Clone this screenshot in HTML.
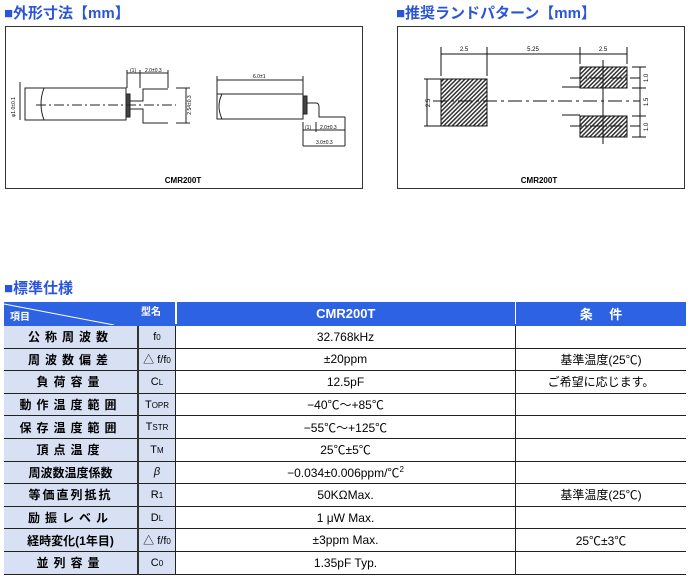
<!DOCTYPE html>
<html><head><meta charset="utf-8"><style>
body{margin:0;width:690px;height:586px;background:#fff;position:relative;font-family:"Liberation Sans","Noto Sans CJK JP",sans-serif;overflow:hidden}
.h{position:absolute;font-size:15px;font-weight:bold;color:#2a55d8;letter-spacing:0}
table{position:absolute;left:4px;top:302px;width:682px;border-collapse:collapse;font-size:12px;color:#000}
td{height:21.6px;padding:0;text-align:center;border-bottom:1px solid #222}
td.l{background:#d8e0f4;font-weight:bold;letter-spacing:5px;width:133px;font-size:12px}
td.s{background:#d8e0f4;border-left:2px solid #333;width:36px;font-size:11px;border-right:1px solid #222}
td.v{width:339px;border-right:1px solid #222}
tr.hd td{background:#2d63e2;color:#fff;font-weight:bold;height:22px;border-bottom:2px solid #2d63e2;font-size:13px}
sub{font-size:8px;vertical-align:baseline}
</style></head><body>
<div class="h" style="left:4px;top:2px">■外形寸法【mm】</div>
<div class="h" style="left:396px;top:2px">■推奨ランドパターン【mm】</div>
<div class="h" style="left:4px;top:277px">■標準仕様</div>
<svg style="position:absolute;left:0;top:0" width="690" height="200" font-family="Liberation Sans" >
<rect x="5.5" y="26.5" width="357" height="162" fill="none" stroke="#333"/>
<rect x="397.5" y="26.5" width="287" height="162" fill="none" stroke="#333"/>
<text x="183" y="183" font-size="8" font-weight="bold" text-anchor="middle">CMR200T</text>
<text x="539" y="183" font-size="8" font-weight="bold" text-anchor="middle">CMR200T</text>
<g stroke="#222" fill="none" stroke-width="1">
<path d="M25 88H126V120H25Z"/><path d="M44 88Q38 104 44 120"/>
<rect x="126" y="94" width="4" height="23" fill="#444"/>
<path d="M130 101H143V89H168M130 109H143V123H168"/>
<path d="M36 105H176" stroke-dasharray="10,3,2,3"/>
<path d="M25 88V120M20 82V120M127 70V88M140 70V88M168 70V88M127 73H168M186 88V123M176 88H190M176 123H190"/>
<path d="M217 94H303V119H217Z"/><path d="M222 94Q216 106 222 119"/>
<rect x="303" y="96" width="4" height="18" fill="#444"/>
<path d="M307 103H316Q319 103 319 107V117H345"/>
<path d="M217 80H303M217 76V94M303 76V94M303 130H345M303 146H345M303 122V146M316 122V132M345 117V146"/>
</g>
<g font-size="5" fill="#000">
<text x="130" y="72">(1)</text><text x="145" y="72">2.0±0.3</text>
<text x="253" y="78">6.0±1</text><text x="305" y="129">(1)</text><text x="320" y="129">2.0±0.3</text><text x="316" y="144">3.0±0.3</text>
<text x="15" y="107" transform="rotate(-90 15 107)" text-anchor="middle">φ1.0±0.1</text>
<text x="191" y="105" transform="rotate(-90 191 105)" text-anchor="middle">2.54±0.3</text>
</g>
<defs><pattern id="hp" width="3" height="3" patternUnits="userSpaceOnUse" patternTransform="rotate(45)"><rect width="3" height="3" fill="#fff"/><rect width="1.5" height="3" fill="#333"/></pattern></defs>
<g stroke="#111" stroke-width="1">
<rect x="441" y="79" width="46" height="47" fill="url(#hp)"/>
<rect x="580" y="67" width="47" height="21" fill="url(#hp)"/>
<rect x="580" y="116" width="47" height="21" fill="url(#hp)"/>
<path d="M441 47V76M487 47V76M580 47V64M627 47V64M441 54H487M487 54H580M580 54H627M427 79V126M424 79H441M424 126H441M640 67V137M632 67H646M632 88H646M632 116H646M632 137H646M562 87H580M562 115H580M603 60V144" fill="none"/>
<path d="M433 101H640" stroke-dasharray="14,4,3,4" fill="none"/>
<path d="M570 78H640M570 126H640" stroke-dasharray="12,3,2,3" fill="none"/>
</g>
<g font-size="6" fill="#000" text-anchor="middle">
<text x="464" y="51">2.5</text><text x="533" y="51">5.25</text><text x="603" y="51">2.5</text>
<text x="430" y="103" transform="rotate(-90 430 103)">2.5</text>
<text x="648" y="78" transform="rotate(-90 648 78)">1.0</text>
<text x="648" y="102" transform="rotate(-90 648 102)">1.5</text>
<text x="648" y="127" transform="rotate(-90 648 127)">1.0</text>
</g>
</svg>
<table>
<tr class="hd"><td colspan="2" style="border-right:2px solid #fff"></td><td style="border-right:1px solid #fff">CMR200T</td><td>条　 件</td></tr>
<tr><td class="l">公称周波数</td><td class="s">f<sub>0</sub></td><td class="v">32.768kHz</td><td></td></tr>
<tr><td class="l">周波数偏差</td><td class="s">△ f/f<sub>0</sub></td><td class="v">±20ppm</td><td>基準温度(25℃)</td></tr>
<tr><td class="l">負荷容量</td><td class="s">C<sub>L</sub></td><td class="v">12.5pF</td><td>ご希望に応じます。</td></tr>
<tr><td class="l">動作温度範囲</td><td class="s">T<sub>OPR</sub></td><td class="v">−40℃～+85℃</td><td></td></tr>
<tr><td class="l">保存温度範囲</td><td class="s">T<sub>STR</sub></td><td class="v">−55℃～+125℃</td><td></td></tr>
<tr><td class="l">頂点温度</td><td class="s">T<sub>M</sub></td><td class="v">25℃±5℃</td><td></td></tr>
<tr><td class="l" style="letter-spacing:0">周波数温度係数</td><td class="s"><i>β</i></td><td class="v">−0.034±0.006ppm/℃<sup style="font-size:8px">2</sup></td><td></td></tr>
<tr><td class="l" style="letter-spacing:2px">等価直列抵抗</td><td class="s">R<sub>1</sub></td><td class="v">50KΩMax.</td><td>基準温度(25℃)</td></tr>
<tr><td class="l">励振レベル</td><td class="s">D<sub>L</sub></td><td class="v">1 μW Max.</td><td></td></tr>
<tr><td class="l" style="letter-spacing:0">経時変化(1年目)</td><td class="s">△ f/f<sub>0</sub></td><td class="v">±3ppm Max.</td><td>25℃±3℃</td></tr>
<tr><td class="l">並列容量</td><td class="s">C<sub>0</sub></td><td class="v">1.35pF Typ.</td><td></td></tr>
</table>
<svg style="position:absolute;left:4px;top:302px;z-index:2" width="170" height="23"><line x1="0" y1="2" x2="110" y2="23" stroke="#fff" stroke-width="1"/><text x="6" y="18" font-size="10" font-weight="bold" fill="#fff" font-family="Noto Sans CJK JP">項目</text><text x="137" y="13" font-size="10" font-weight="bold" fill="#fff" font-family="Noto Sans CJK JP">型名</text></svg>
</body></html>
